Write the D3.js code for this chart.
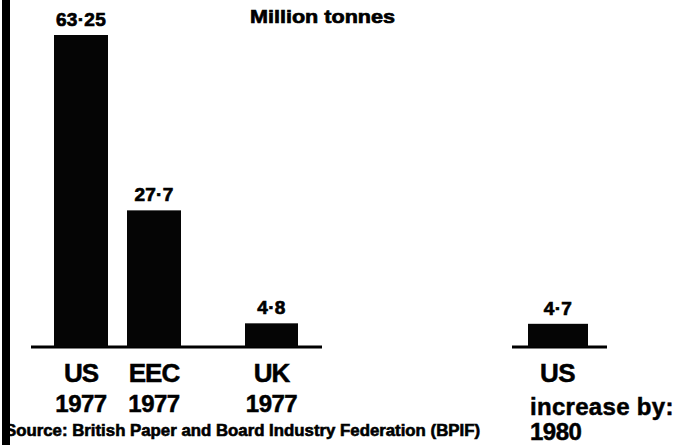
<!DOCTYPE html>
<html><head><meta charset="utf-8">
<script src="https://cdn.jsdelivr.net/npm/d3@7"></script>
<style>
html,body{margin:0;padding:0;background:#fff;}
svg{display:block;}
text{font-family:"Liberation Sans",Arial,sans-serif;fill:#000;stroke:#000;stroke-width:0.5px;}
</style></head>
<body>
<script>
// ---- data ----
const categories = ["US 1977", "EEC 1977", "UK 1977", "US increase by 1980"];
const values = [63.25, 27.7, 4.8, 4.7];
const valueLabels = ["63·25", "27·7", "4·8", "4·7"];
const labelLines = [["US", "1977"], ["EEC", "1977"], ["UK", "1977"], ["US", "increase by:", "1980"]];
const unitLabel = "Million tonnes";
const sourceText = "Source: British Paper and Board Industry Federation (BPIF)";

// ---- layout ----
const W = 675, H = 445;
const svg = d3.select("body").append("svg").attr("width", W).attr("height", H);

const y = d3.scaleLinear().domain([0, d3.max(values)]).range([347, 35]);
const xc = d3.scaleOrdinal().domain(categories).range([81, 154, 271.5, 558]);
const bw = d3.scaleOrdinal().domain(categories).range([54, 54, 53, 60]);

// left border
svg.append("rect").attr("x", 2).attr("y", 0).attr("width", 8).attr("height", H).attr("fill", "#000");

// baselines
[[31, 322], [512, 607]].forEach(([a, b]) => {
  svg.append("line").attr("x1", a).attr("x2", b).attr("y1", y(0)).attr("y2", y(0))
    .attr("stroke", "#000").attr("stroke-width", 3);
});

// bars
svg.selectAll("rect.bar").data(categories).join("rect").attr("class", "bar")
  .attr("x", d => xc(d) - bw(d) / 2)
  .attr("width", d => bw(d))
  .attr("y", (d, i) => y(values[i]))
  .attr("height", (d, i) => y(0) - y(values[i]))
  .attr("fill", "#050505");

// value labels
svg.selectAll("text.val").data(categories).join("text").attr("class", "val")
  .attr("x", d => xc(d))
  .attr("y", (d, i) => y(values[i]) - 9)
  .attr("text-anchor", "middle")
  .attr("font-size", 19).attr("font-weight", "bold").attr("letter-spacing", 0.3)
  .style("stroke-width", "0.7px")
  .text((d, i) => valueLabels[i]);

// category labels
categories.forEach((c, i) => {
  const lines = labelLines[i];
  if (i < 3) {
    lines.forEach((t, j) => {
      svg.append("text").attr("x", xc(c)).attr("y", j === 0 ? 382 : 412)
        .attr("text-anchor", "middle")
        .attr("font-size", j === 0 ? 26 : 24).attr("font-weight", "bold")
        .attr("letter-spacing", j === 0 ? -1 : -0.5)
        .text(t);
    });
  } else {
    const pos = [[540, 382, 26], [530, 415, 24], [530, 440, 24]];
    lines.forEach((t, j) => {
      svg.append("text").attr("x", pos[j][0]).attr("y", pos[j][1])
        .attr("font-size", pos[j][2]).attr("font-weight", "bold")
        .attr("letter-spacing", j === 1 ? 0.3 : -0.5)
        .text(t);
    });
  }
});

// unit label
svg.append("text").attr("x", 250).attr("y", 23)
  .attr("font-size", 19).attr("font-weight", "bold")
  .attr("textLength", 145).attr("lengthAdjust", "spacingAndGlyphs")
  .style("stroke-width", "0.7px")
  .text(unitLabel);

// source
svg.append("text").attr("x", 5).attr("y", 436)
  .attr("font-family", "'Liberation Sans Narrow','Liberation Sans',sans-serif")
  .attr("font-size", 16).attr("font-weight", "bold")
  .attr("textLength", 475).attr("lengthAdjust", "spacingAndGlyphs")
  .style("stroke-width", "0.6px")
  .text(sourceText);
</script>
</body></html>
